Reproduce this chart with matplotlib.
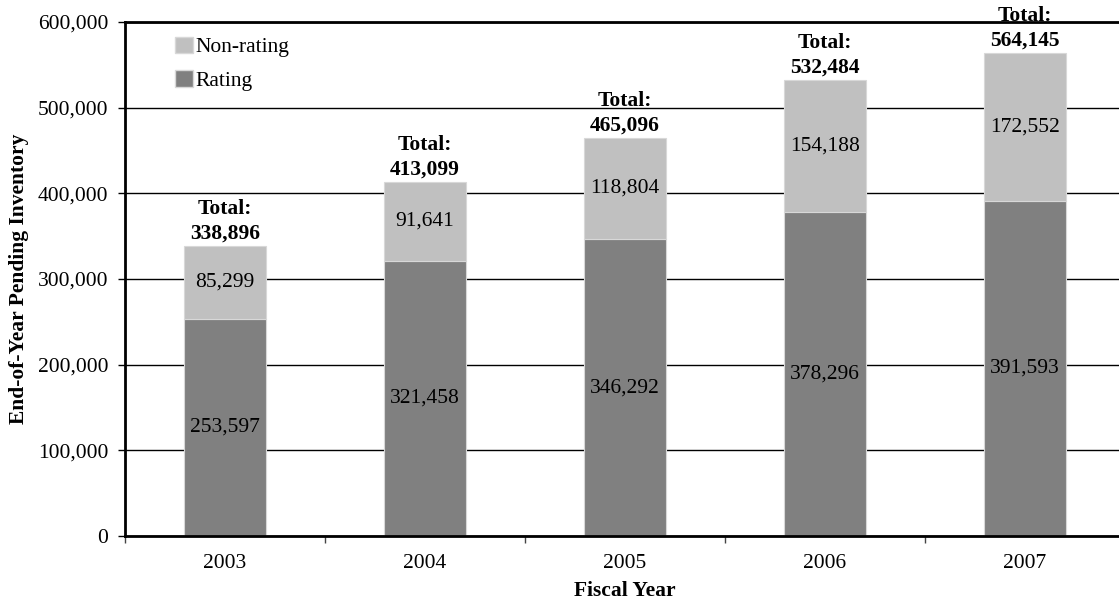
import matplotlib
matplotlib.use('Agg')
import matplotlib.pyplot as plt
from matplotlib.patches import Patch

years = ['2003', '2004', '2005', '2006', '2007']
rating = [253597, 321458, 346292, 378296, 391593]
non_rating = [85299, 91641, 118804, 154188, 172552]
totals = [338896, 413099, 465096, 532484, 564145]

plt.rcParams['font.family'] = ['Liberation Serif', 'DejaVu Serif']
FS = 15.5

fig = plt.figure(figsize=(11.19, 6.02), dpi=100)
ax = fig.add_axes([125 / 1119, 66 / 602, 1000 / 1119, 514 / 602])

x = list(range(len(years)))
ax.bar(x, rating, width=0.41, color='#808080', edgecolor='#d8d8d8', linewidth=0.8, zorder=2)
ax.bar(x, non_rating, width=0.41, bottom=rating, color='#c0c0c0', edgecolor='#d8d8d8',
       linewidth=0.8, zorder=2)

for i in x:
    ax.text(i, rating[i] / 2, f'{rating[i]:,}', ha='center', va='center', fontsize=FS, zorder=3)
    ax.text(i, rating[i] + non_rating[i] / 2, f'{non_rating[i]:,}', ha='center', va='center',
            fontsize=FS, zorder=3)
    # bold total sits just above each stack
    ax.text(i, totals[i] + 2500, f'Total:\n{totals[i]:,}', ha='center', va='bottom',
            fontsize=FS, fontweight='bold', linespacing=1.3, zorder=4, clip_on=False)

ax.set_xlim(-0.5, 4.5)
ax.set_ylim(0, 600000)
ax.set_yticks(range(0, 600001, 100000))
ax.set_yticklabels([f'{v:,}' for v in range(0, 600001, 100000)])
ax.set_xticks(x)
ax.set_xticklabels(years)
ax.set_xticks([i - 0.5 for i in range(6)], minor=True)
ax.tick_params(axis='x', which='major', length=0, pad=13, labelsize=FS)
ax.tick_params(axis='x', which='minor', length=5, direction='out', width=1, colors='#444444')
ax.tick_params(axis='y', length=5, direction='out', width=1, labelsize=FS, pad=7)

ax.yaxis.grid(True, color='black', linewidth=1.0, zorder=0)
ax.set_axisbelow(True)
for s in ['left', 'bottom', 'top']:
    ax.spines[s].set_linewidth(2)
ax.spines['right'].set_visible(False)

ax.set_xlabel('Fiscal Year', fontsize=FS, fontweight='bold', labelpad=6)
ax.set_ylabel('End-of-Year Pending Inventory', fontsize=FS, fontweight='bold', labelpad=6)

handles = [Patch(facecolor='#c0c0c0', edgecolor='#d8d8d8', label='Non-rating'),
           Patch(facecolor='#808080', edgecolor='#d8d8d8', label='Rating')]
ax.legend(handles=handles, loc='upper left', bbox_to_anchor=(0.031, 1.009), frameon=False,
          fontsize=FS, handlelength=0.8, handleheight=0.8, handletextpad=0.15, labelspacing=0.6)

fig.savefig('out.png', dpi=100)
